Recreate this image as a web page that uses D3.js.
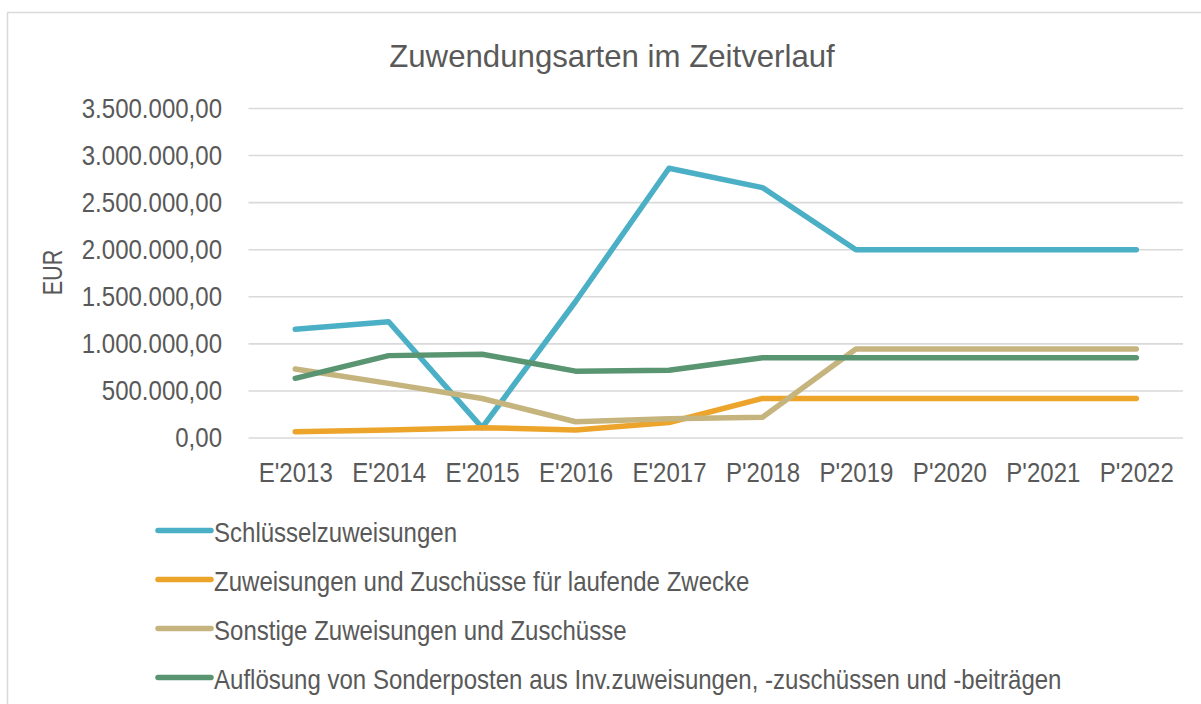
<!DOCTYPE html>
<html><head><meta charset="utf-8">
<script src="https://cdn.jsdelivr.net/npm/d3@7"></script>
<style>
body{margin:0;background:#fff;}
text{font-family:"Liberation Sans Narrow","Arial Narrow","Liberation Sans",sans-serif;fill:#595959;}
</style></head>
<body><svg id="c" width="1201" height="704"></svg>
<script>
const categories = ["E'2013","E'2014","E'2015","E'2016","E'2017","P'2018","P'2019","P'2020","P'2021","P'2022"];
const seriesNames = ["Schlüsselzuweisungen","Zuweisungen und Zuschüsse für laufende Zwecke","Sonstige Zuweisungen und Zuschüsse","Auflösung von Sonderposten aus Inv.zuweisungen, -zuschüssen und -beiträgen"];
const schluessel = [1155000,1235000,110000,1450000,2865000,2660000,2000000,2000000,2000000,2000000];
const laufende   = [67000,85000,110000,85000,165000,420000,420000,420000,420000,420000];
const sonstige   = [733000,580000,420000,173000,205000,220000,945000,945000,945000,945000];
const aufloesung = [634000,875000,890000,710000,720000,853000,853000,853000,853000,853000];
const yTicks = [0,500000,1000000,1500000,2000000,2500000,3000000,3500000];
const colors = ["#4bb0c6","#eca42b","#c6b47f","#5a9572"];
const allSeries = [schluessel,laufende,sonstige,aufloesung];

const SX = 0.89;   // horizontal condensing to mimic a narrow font
const FS = 27;

const svg = d3.select("#c");
svg.append("rect").attr("x",7.5).attr("y",12.5).attr("width",1220).attr("height",720)
  .attr("fill","none").attr("stroke","#d9d9d9").attr("stroke-width",1.5);

const x = d3.scalePoint().domain(categories).range([248.5,1183]).padding(0.5);
const y = d3.scaleLinear().domain([0,3500000]).range([438,108.5]);

const fmt = v => d3.format(",.2f")(v).replace(/,/g,"#").replace(".",",").replace(/#/g,".");

svg.append("g").selectAll("line").data(yTicks).join("line")
  .attr("x1",248.5).attr("x2",1183).attr("y1",d=>y(d)).attr("y2",d=>y(d))
  .attr("stroke","#d9d9d9").attr("stroke-width",1.6);

const yAxis = d3.axisLeft(y).tickValues(yTicks).tickFormat(fmt).tickSize(0).tickPadding(0);
const gy = svg.append("g").attr("transform","translate(222,0)").call(yAxis);
gy.select(".domain").remove();
gy.selectAll("text").attr("font-size",FS).attr("fill","#595959").style("font-family",null)
  .attr("transform",`scale(${SX},1)`);

const xAxis = d3.axisBottom(x).tickSize(0).tickPadding(0);
const gx = svg.append("g").attr("transform","translate(0,463)").call(xAxis);
gx.select(".domain").remove();
gx.selectAll("text").attr("font-size",FS).attr("fill","#595959").attr("dy","0.71em").style("font-family",null)
  .attr("transform",`scale(${SX},1)`);

const line = d3.line().x((d,i)=>x(categories[i])).y(d=>y(d));
svg.append("g").selectAll("path").data(allSeries).join("path")
  .attr("d",line).attr("fill","none").attr("stroke",(d,i)=>colors[i])
  .attr("stroke-width",5.5).attr("stroke-linecap","round").attr("stroke-linejoin","round");

svg.append("text").attr("transform","translate(612,67) scale(0.975,1)").attr("text-anchor","middle")
  .attr("font-size",32).text("Zuwendungsarten im Zeitverlauf");

svg.append("text").attr("transform",`translate(61.5,272.5) rotate(-90) scale(0.8,1)`).attr("text-anchor","middle")
  .attr("font-size",FS).text("EUR");

const lg = svg.append("g").selectAll("g").data(seriesNames).join("g")
  .attr("transform",(d,i)=>`translate(0,${530.5+i*49})`);
lg.append("line").attr("x1",158).attr("x2",211).attr("stroke",(d,i)=>colors[i])
  .attr("stroke-width",5.5).attr("stroke-linecap","round");
lg.append("text").attr("transform",`translate(214,11) scale(${SX},1)`).attr("font-size",FS).text(d=>d);
</script></body></html>
